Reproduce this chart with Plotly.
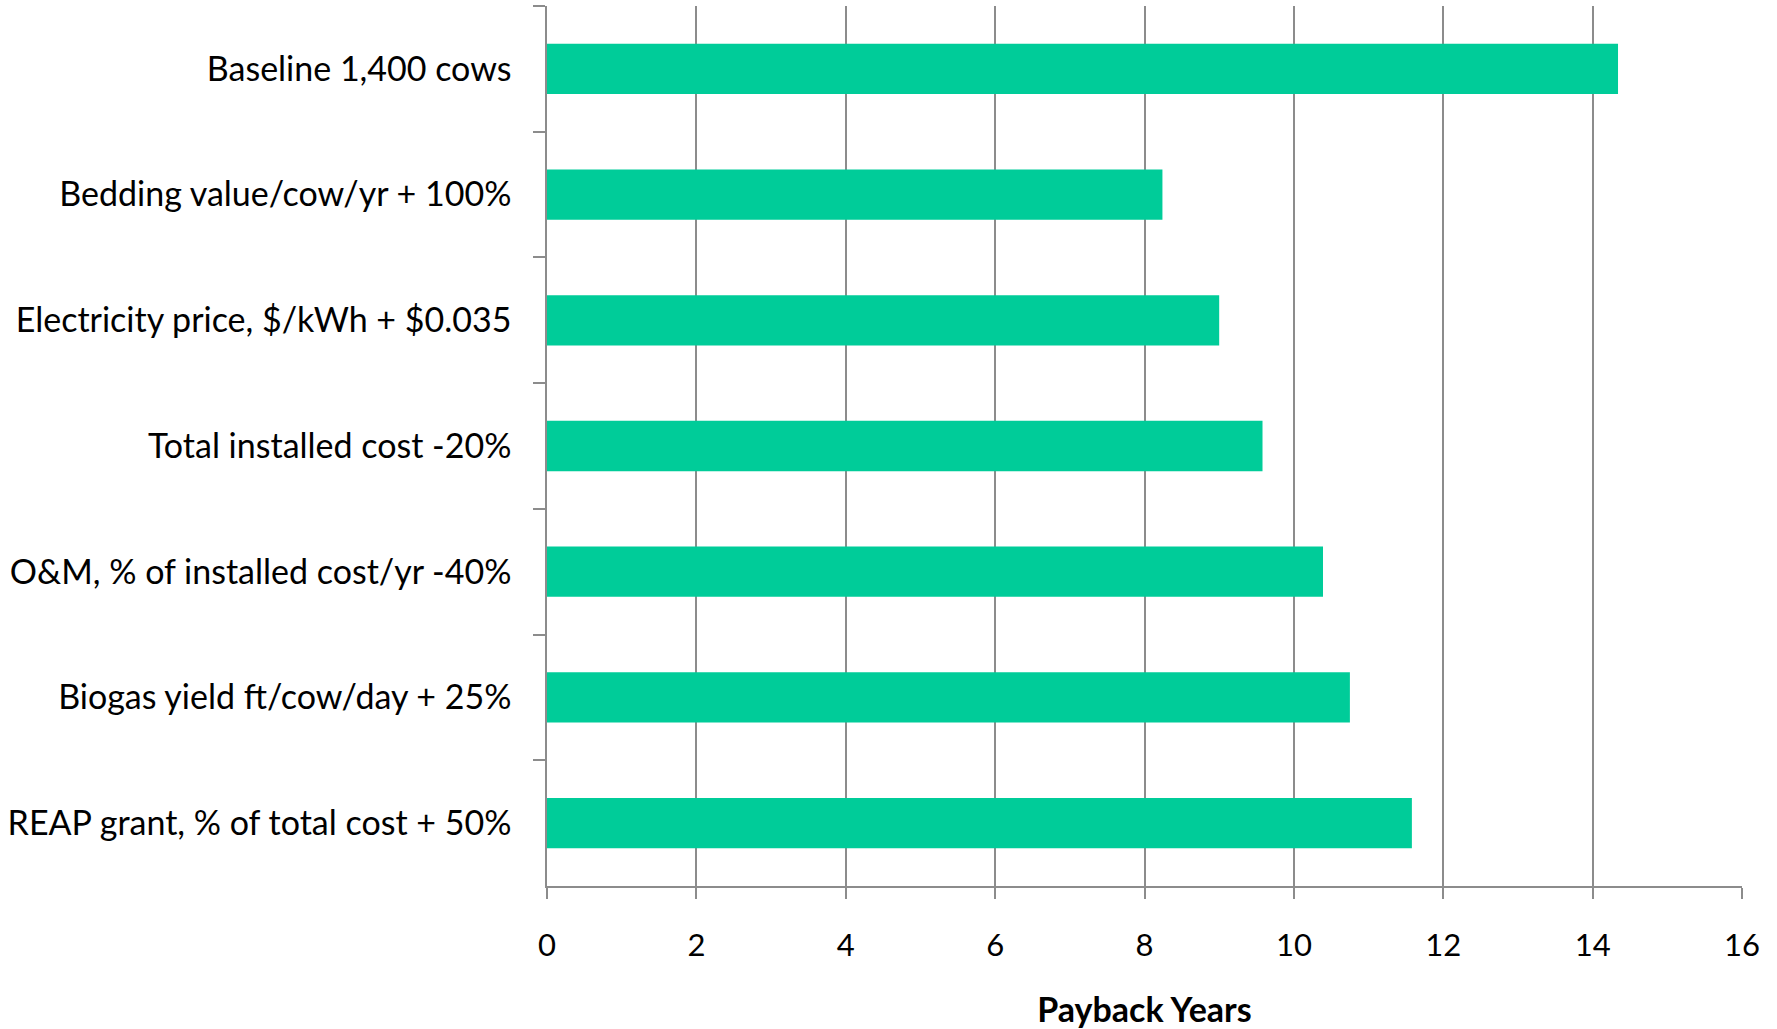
import plotly.graph_objects as go

categories = [
    "Baseline 1,400 cows",
    "Bedding value/cow/yr + 100%",
    "Electricity price, $/kWh + $0.035",
    "Total installed cost -20%",
    "O&M, % of installed cost/yr -40%",
    "Biogas yield ft/cow/day + 25%",
    "REAP grant, % of total cost + 50%",
]
payback_years = [14.34, 8.24, 9.00, 9.58, 10.39, 10.75, 11.58]
x_ticks = [0, 2, 4, 6, 8, 10, 12, 14, 16]

FONT = "Lato"
GRID = "#8c8c8c"

fig = go.Figure(
    go.Bar(
        x=payback_years,
        y=categories,
        orientation="h",
        marker=dict(color="rgb(0,204,153)", line=dict(width=0)),
        width=0.4,
    )
)

fig.update_layout(
    width=1777,
    height=1029,
    margin=dict(l=547, r=35, t=6, b=143),
    paper_bgcolor="white",
    plot_bgcolor="white",
    showlegend=False,
    font=dict(family=FONT, size=30, color="black"),
    xaxis=dict(
        range=[0, 16],
        tickvals=x_ticks,
        showgrid=True,
        gridcolor=GRID,
        gridwidth=1.5,
        zeroline=False,
        showline=True,
        linecolor=GRID,
        linewidth=1.5,
        ticks="outside",
        ticklen=11,
        tickcolor=GRID,
        tickwidth=1.5,
        ticklabelstandoff=20,
        tickfont=dict(family=FONT, size=31, color="black"),
        title=dict(text="<b>Payback Years</b>", font=dict(family=FONT, size=34, color="black"), standoff=37),
    ),
    yaxis=dict(
        categoryorder="array",
        categoryarray=categories,
        autorange="reversed",
        showgrid=False,
        zeroline=False,
        showline=True,
        linecolor=GRID,
        linewidth=1.5,
        ticks="outside",
        tickson="boundaries",
        ticklen=12,
        tickcolor=GRID,
        tickwidth=1.5,
        ticklabelstandoff=27,
        tickfont=dict(family=FONT, size=34, color="black"),
    ),
)

fig.write_html("out.html")
